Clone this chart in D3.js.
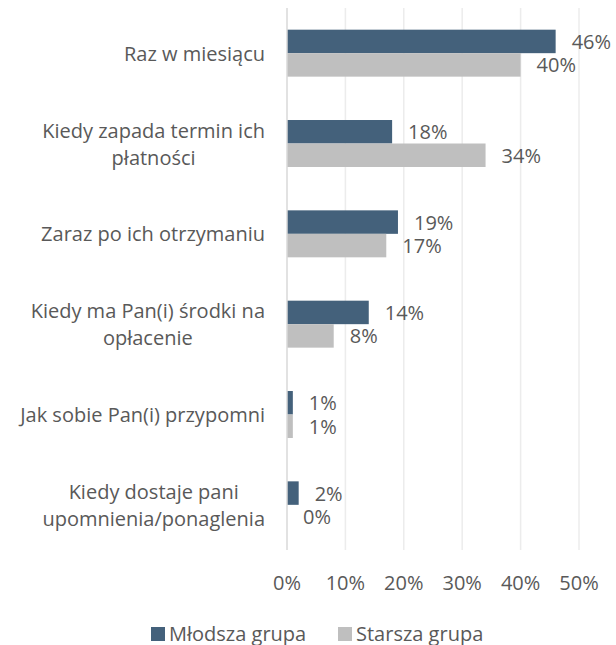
<!DOCTYPE html>
<html>
<head>
<meta charset="utf-8">
<script src="https://cdn.jsdelivr.net/npm/d3@7"></script>
<style>
  body { margin: 0; background: #fff; }
  text { font-family: "Open Sans", "Noto Sans", sans-serif; fill: #595959; }
</style>
</head>
<body>
<svg id="chart" width="616" height="645"></svg>
<script>
// Categories (line breaks as in the original wrapping)
var categories = [
  "Raz w miesiącu",
  "Kiedy zapada termin ich\npłatności",
  "Zaraz po ich otrzymaniu",
  "Kiedy ma Pan(i) środki na\nopłacenie",
  "Jak sobie Pan(i) przypomni",
  "Kiedy dostaje pani\nupomnienia/ponaglenia"
];

// Series values, in percent
var younger = [46, 18, 19, 14, 1, 2];
var older = [40, 34, 17, 8, 1, 0];

var seriesNames = ["Młodsza grupa", "Starsza grupa"];
var seriesColours = ["#44617b", "#bfbfbf"];

var ticks = [0, 10, 20, 30, 40, 50];

var fontSize = "20px";

var svg = d3.select("svg#chart");

// Plot area
var plotLeft = 287, plotRight = 579, plotTop = 8, plotBottom = 550;

var x = d3.scaleLinear().domain([0, 50]).range([plotLeft, plotRight]);
var y = d3.scaleBand().domain(categories).range([plotTop, plotBottom]).paddingInner(0.48).paddingOuter(0.24);
var sub = d3.scaleBand().domain([0, 1]).range([0, y.bandwidth()]);

// Vertical gridlines
svg.selectAll("line.grid")
  .data(ticks.slice(1))
  .enter().append("line")
  .attr("class", "grid")
  .attr("x1", d => x(d)).attr("x2", d => x(d))
  .attr("y1", plotTop).attr("y2", plotBottom)
  .attr("stroke", "#ececec")
  .attr("stroke-width", 1.5);

// Bars and data labels
var series = [younger, older];
series.forEach(function(vals, s) {
  svg.selectAll("rect.s" + s)
    .data(vals)
    .enter().append("rect")
    .attr("class", "s" + s)
    .attr("x", x(0))
    .attr("y", (d, i) => y(categories[i]) + sub(s))
    .attr("width", d => x(d) - x(0))
    .attr("height", sub.bandwidth())
    .attr("fill", seriesColours[s]);

  svg.selectAll("text.l" + s)
    .data(vals)
    .enter().append("text")
    .attr("class", "l" + s)
    .attr("x", d => x(d) + 16)
    .attr("y", (d, i) => y(categories[i]) + sub(s) + sub.bandwidth() / 2)
    .attr("dominant-baseline", "central")
    .attr("font-size", fontSize)
    .text(d => d + "%");
});

// Category axis line
svg.append("line")
  .attr("x1", x(0)).attr("x2", x(0))
  .attr("y1", plotTop).attr("y2", plotBottom)
  .attr("stroke", "#d9d9d9")
  .attr("stroke-width", 1.5);

// Category labels: lines centred on each other, block right-aligned
var lineHeight = 27;
categories.forEach(function(c) {
  var lines = c.split("\n");
  var cy = y(c) + y.bandwidth() / 2;
  var g = svg.append("text")
    .attr("font-size", fontSize)
    .attr("text-anchor", "middle");
  var tspans = lines.map(function(t, k) {
    return g.append("tspan")
      .attr("y", cy + (k - (lines.length - 1) / 2) * lineHeight)
      .attr("dominant-baseline", "central")
      .text(t);
  });
  var w = d3.max(tspans, t => t.node().getComputedTextLength());
  tspans.forEach(t => t.attr("x", 265 - w / 2));
});

// Value axis tick labels
svg.selectAll("text.tick")
  .data(ticks)
  .enter().append("text")
  .attr("class", "tick")
  .attr("x", d => x(d))
  .attr("y", 582)
  .attr("text-anchor", "middle")
  .attr("dominant-baseline", "central")
  .attr("font-size", fontSize)
  .text(d => d + "%");

// Legend
var legendX = [151, 338];
seriesNames.forEach(function(n, s) {
  svg.append("rect")
    .attr("x", legendX[s]).attr("y", 627)
    .attr("width", 14).attr("height", 14)
    .attr("fill", seriesColours[s]);
  svg.append("text")
    .attr("x", legendX[s] + 18).attr("y", 633)
    .attr("dominant-baseline", "central")
    .attr("font-size", fontSize)
    .text(n);
});
</script>
</body>
</html>
